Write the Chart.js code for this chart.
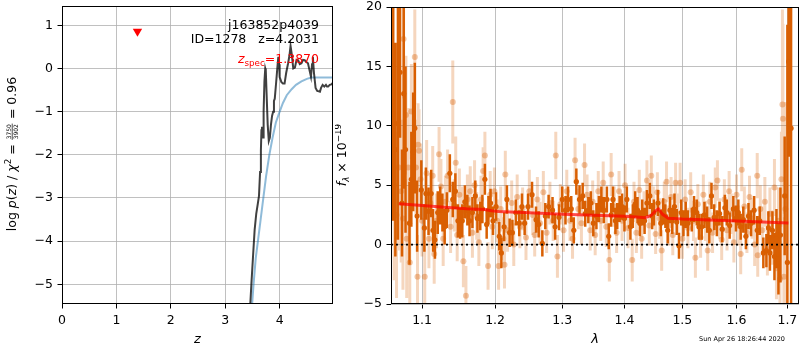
<!DOCTYPE html>
<html>
<head>
<meta charset="utf-8">
<script src="https://cdn.jsdelivr.net/npm/chart.js@4"></script>
<style>
html, body { margin: 0; padding: 0; background: #fff; }
#wrap { position: relative; width: 800px; height: 350px; }
#left { position: absolute; left: 0; top: 0; }
#right { position: absolute; left: 335px; top: 0; }
</style>
</head>
<body>
<div id="wrap">
<canvas id="left" width="335" height="350"></canvas>
<canvas id="right" width="465" height="350"></canvas>
</div>
<script>
// ---- left panel: log p(z) ----
const zTicks = [0, 1, 2, 3, 4];
const pzTicks = [-5, -4, -3, -2, -1, 0, 1];
const zFit = [3.45, 3.48, 3.51, 3.54, 3.57, 3.60, 3.62, 3.64, 3.655, 3.665,
  3.675, 3.685, 3.695, 3.705, 3.72, 3.735, 3.745, 3.76, 3.78, 3.80,
  3.82, 3.84, 3.86, 3.88, 3.895, 3.91, 3.93, 3.955, 3.975, 3.99,
  4.00, 4.03, 4.06, 4.09, 4.12, 4.155, 4.18, 4.20, 4.22, 4.25,
  4.28, 4.31, 4.34, 4.37, 4.40, 4.43, 4.46, 4.49, 4.52, 4.55,
  4.575, 4.595, 4.61, 4.63, 4.66, 4.69, 4.72, 4.74, 4.76, 4.79,
  4.82, 4.85, 4.87, 4.89, 4.92, 4.95, 4.98];
const logPz = [-5.7, -5.0, -4.36, -3.74, -3.36, -3.12, -2.95, -2.4, -1.9, -1.43,
  -1.35, -1.45, -1.6, -1.0, -0.3, 0.0, -0.05, -0.6, -1.3, -1.68,
  -1.6, -1.3, -1.1, -1.0, -0.75, -0.7, -0.4, -0.02, 0.27, 0.1,
  -0.2, -0.31, -0.35, -0.35, -0.1, 0.12, 0.3, 0.52, 0.35, 0.0,
  0.02, 0.2, 0.19, 0.1, 0.12, 0.2, 0.19, 0.15, 0.12, -0.05,
  -0.19, 0.1, 0.27, -0.1, -0.45, -0.52, -0.53, -0.54, -0.45, -0.38,
  -0.42, -0.38, -0.42, -0.42, -0.38, -0.37, -0.33];
const zPrior = [3.48, 3.52, 3.56, 3.60, 3.65, 3.70, 3.75, 3.81, 3.87, 3.93,
  4.00, 4.06, 4.13, 4.22, 4.30, 4.40, 4.50, 4.58, 4.65, 4.80, 4.98];
const logPrior = [-5.7, -5.0, -4.4, -4.0, -3.5, -3.0, -2.5, -2.0, -1.6, -1.25,
  -1.0, -0.8, -0.62, -0.48, -0.38, -0.3, -0.24, -0.21, -0.21, -0.21, -0.21];
const zSpec = 1.387;
const zSpecMark = 0.86;
const objName = 'j163852p4039';
const idText = 'ID=1278   z=4.2031';
const zSpecText = '=1.3870';

// ---- right panel: spectrum ----
const lamTicks = [1.1, 1.2, 1.3, 1.4, 1.5, 1.6, 1.7];
const fluxTicks = [-5, 0, 5, 10, 15, 20];

// strong points
const lamA = [1.0610, 1.0628, 1.0655, 1.0688, 1.0715, 1.0740, 1.0762, 1.0785, 1.0836, 1.0860,
  1.0884, 1.0905, 1.0935, 1.0990, 1.1030, 1.1050, 1.1085, 1.1120, 1.1145, 1.1170,
  1.1207, 1.1240, 1.1270, 1.1300, 1.1330, 1.1370, 1.1410, 1.1445, 1.1480, 1.1510,
  1.1540, 1.1575, 1.1610, 1.1640, 1.1680, 1.1720, 1.1750, 1.1790, 1.1820, 1.1855,
  1.1880, 1.1905, 1.1935, 1.1970, 1.2014, 1.2060, 1.2090, 1.2130, 1.2170, 1.2210,
  1.2250, 1.2300, 1.2350, 1.2390, 1.2430, 1.2480, 1.2540, 1.2600, 1.2640, 1.2695,
  1.2740, 1.2790, 1.2850, 1.2890, 1.2950, 1.3000, 1.3050, 1.3090, 1.3140, 1.3180,
  1.3220, 1.3270, 1.3320, 1.3360, 1.3410, 1.3450, 1.3490, 1.3540, 1.3580, 1.3620,
  1.3660, 1.3710, 1.3740, 1.3780, 1.3810, 1.3850, 1.3880, 1.3920, 1.3960, 1.4000,
  1.4040, 1.4100, 1.4140, 1.4180, 1.4220, 1.4260, 1.4300, 1.4340, 1.4380, 1.4430,
  1.4470, 1.4500, 1.4570, 1.4620, 1.4660, 1.4700, 1.4740, 1.4780, 1.4820, 1.4860,
  1.4900, 1.4940, 1.4980, 1.5020, 1.5060, 1.5100, 1.5170, 1.5210, 1.5260, 1.5300,
  1.5350, 1.5400, 1.5450, 1.5490, 1.5530, 1.5580, 1.5630, 1.5680, 1.5730, 1.5780,
  1.5816, 1.5870, 1.5940, 1.5990, 1.6035, 1.6080, 1.6130, 1.6180, 1.6230, 1.6280,
  1.6340, 1.6400, 1.6450, 1.6520, 1.6580, 1.6620, 1.6650, 1.6700, 1.6740, 1.6780,
  1.6820, 1.6860, 1.6945, 1.7000, 1.7025, 1.7075];
const fluxA = [12.0, 11.0, 8.0, 10.2, 14.5, 3.5, 12.7, 8.0, 1.8, 5.5,
  7.8, 9.8, 2.4, 4.6, 1.4, 4.3, 2.8, 4.3, 1.2, 0.4,
  2.7, 3.3, 2.7, 1.5, 2.9, 6.0, 3.8, 4.5, 2.0, 1.8,
  2.0, 3.6, 2.9, 2.0, 2.7, 4.1, 2.2, 2.4, 3.0, 5.5,
  1.7, 2.9, 3.5, 2.0, 3.2, 0.7, -0.7, 1.5, 3.8, 1.0,
  1.0, 2.7, 1.8, 3.2, 1.8, 3.2, 4.2, 2.1, 1.7, 0.1,
  2.4, 3.2, 2.9, 1.5, 2.3, 3.8, 2.9, 3.8, 3.0, 1.2,
  5.3, 3.8, 4.1, 2.6, 2.9, 3.5, 1.8, 2.4, 3.0, 3.8,
  2.9, 3.8, 0.7, 2.5, 3.8, 2.0, 2.4, 3.0, 3.2, 2.2,
  3.8, 1.5, 2.4, 3.4, 2.9, 1.8, 2.7, 2.0, 3.5, 4.1,
  2.4, 2.7, 3.5, 1.8, 2.8, 2.4, 1.2, 2.9, 2.0, 3.2,
  1.9, -0.1, 2.7, 1.8, 2.5, 1.8, 2.1, 3.0, 2.7, 1.5,
  1.5, 2.5, 2.1, 1.2, 4.1, 2.3, 1.8, 2.6, 1.3, 3.1,
  2.7, 1.6, 3.0, 2.2, 2.7, 1.5, 2.1, 0.7, 2.4, 1.8,
  2.9, 1.2, 2.0, -0.7, -0.5, 1.4, -0.7, 1.2, -1.0, 0.5,
  -1.2, 0.8, 4.1, -1.5, 15.4, 9.8];
const errA = [9.5, 9.0, 9.0, 9.8, 5.5, 4.5, 8.0, 7.0, 3.5, 4.0,
  5.0, 5.5, 3.0, 2.5, 2.0, 2.2, 2.0, 2.0, 1.8, 1.6,
  1.8, 1.6, 1.6, 1.5, 1.5, 1.6, 1.5, 1.5, 1.4, 1.3,
  1.4, 1.4, 1.3, 1.3, 1.3, 1.3, 1.2, 1.2, 1.2, 1.3,
  1.2, 1.2, 1.2, 1.2, 1.2, 1.2, 1.3, 1.2, 1.2, 1.2,
  1.1, 1.1, 1.1, 1.1, 1.0, 1.1, 1.1, 1.1, 1.1, 1.1,
  1.1, 1.0, 1.1, 1.1, 1.1, 1.1, 1.2, 1.1, 1.1, 1.1,
  1.1, 1.2, 1.1, 1.1, 1.1, 1.0, 1.1, 1.1, 1.1, 1.1,
  1.1, 1.1, 1.1, 1.0, 1.1, 1.1, 1.1, 1.1, 1.1, 1.1,
  1.1, 1.1, 1.0, 1.1, 1.1, 1.1, 1.1, 1.1, 1.1, 1.1,
  1.1, 1.1, 1.1, 1.1, 1.1, 1.0, 1.1, 1.1, 1.1, 1.1,
  1.1, 1.1, 1.1, 1.1, 1.1, 1.1, 1.0, 1.1, 1.1, 1.1,
  1.1, 1.1, 1.1, 1.1, 1.1, 1.1, 1.1, 1.0, 1.1, 1.1,
  1.1, 1.1, 1.1, 1.1, 1.1, 1.1, 1.1, 1.1, 1.1, 1.1,
  1.2, 1.2, 1.2, 1.3, 1.4, 1.4, 1.5, 1.6, 2.0, 2.5,
  3.0, 4.0, 5.0, 20.0, 8.0, 15.0];

// faint points
const lamB = [1.0640, 1.0670, 1.0700, 1.0730, 1.0752, 1.0760, 1.0790, 1.0800, 1.0820, 1.0840,
  1.0860, 1.0905, 1.0920, 1.0940, 1.0948, 1.0960, 1.0980, 1.1000, 1.1035, 1.1060,
  1.1090, 1.1110, 1.1140, 1.1160, 1.1190, 1.1225, 1.1250, 1.1280, 1.1310, 1.1340,
  1.1380, 1.1410, 1.1430, 1.1450, 1.1470, 1.1500, 1.1530, 1.1555, 1.1590, 1.1610,
  1.1650, 1.1680, 1.1710, 1.1740, 1.1770, 1.1800, 1.1830, 1.1855, 1.1900, 1.1930,
  1.1960, 1.1990, 1.2030, 1.2050, 1.2080, 1.2120, 1.2135, 1.2147, 1.2180, 1.2240,
  1.2270, 1.2320, 1.2360, 1.2400, 1.2450, 1.2500, 1.2550, 1.2580, 1.2620, 1.2660,
  1.2710, 1.2760, 1.2810, 1.2860, 1.2900, 1.2925, 1.2970, 1.3020, 1.3070, 1.3120,
  1.3160, 1.3200, 1.3250, 1.3300, 1.3350, 1.3390, 1.3440, 1.3480, 1.3520, 1.3570,
  1.3610, 1.3650, 1.3700, 1.3750, 1.3780, 1.3830, 1.3870, 1.3910, 1.3960, 1.4010,
  1.4060, 1.4130, 1.4160, 1.4200, 1.4250, 1.4290, 1.4330, 1.4380, 1.4420, 1.4455,
  1.4490, 1.4530, 1.4560, 1.4600, 1.4635, 1.4680, 1.4720, 1.4760, 1.4800, 1.4830,
  1.4880, 1.4920, 1.4960, 1.5000, 1.5050, 1.5100, 1.5150, 1.5200, 1.5235, 1.5280,
  1.5330, 1.5380, 1.5420, 1.5460, 1.5500, 1.5550, 1.5600, 1.5640, 1.5680, 1.5720,
  1.5770, 1.5820, 1.5860, 1.5900, 1.5950, 1.6000, 1.6040, 1.6080, 1.6100, 1.6150,
  1.6200, 1.6250, 1.6300, 1.6350, 1.6400, 1.6410, 1.6460, 1.6500, 1.6550, 1.6600,
  1.6650, 1.6700, 1.6740, 1.6780, 1.6820, 1.6850, 1.6880, 1.6900, 1.6910, 1.6930,
  1.6960];
const fluxB = [5.0, 2.5, 6.5, 4.5, 2.2, 17.3, 10.9, 0.5, 6.5, -1.5,
  11.2, 15.8, 6.5, -2.7, 8.4, 7.9, 5.5, 2.0, -2.7, 6.0,
  0.5, 3.5, 5.8, -0.8, 2.0, 7.6, 4.9, 0.5, 3.6, 5.8,
  1.5, 12.0, 3.3, 6.9, 0.8, 4.2, 2.8, -1.4, -4.3, 3.8,
  4.5, 1.0, 5.0, 2.4, 0.2, 3.8, 6.2, 7.5, -1.8, 4.2,
  1.5, 4.5, 2.0, -1.8, 3.0, 0.5, -1.7, 5.9, 1.2, 3.5,
  0.0, 4.0, 1.5, 3.0, 0.6, 4.5, 2.5, 0.8, 3.8, 1.8,
  4.4, 1.0, 3.5, 2.0, 7.5, -1.0, 3.4, 1.2, 4.5, 2.0,
  0.5, 7.1, 3.0, 1.8, 6.7, 4.2, 1.2, 3.6, 0.8, 4.5,
  2.0, 5.2, 1.5, -1.3, 5.9, 3.2, 1.0, 4.5, 2.0, 5.0,
  1.4, -1.3, 3.6, 1.0, 4.6, 0.5, 2.8, 5.4, 1.6, 5.8,
  3.2, 0.9, 4.4, 2.2, -0.5, 3.6, 5.3, 1.6, 4.0, 0.8,
  5.2, 2.6, 5.2, 0.5, 3.8, 1.4, 4.4, 2.0, -1.1, 3.4,
  0.6, 4.2, 2.0, -0.5, 3.6, 1.0, 4.8, 5.4, 2.2, 0.4,
  3.8, 1.2, 4.5, 2.6, 0.2, 4.2, 1.6, -0.8, 6.3, 3.2,
  1.0, 4.0, 2.2, 0.0, 5.8, -0.9, 3.0, 1.2, 3.6, -0.4,
  2.6, 0.6, 4.8, -2.0, 2.0, -2.9, 5.5, 11.8, 10.6, -2.7,
  3.0];
const errB = [8.0, 7.0, 7.0, 6.0, 6.0, 5.0, 5.0, 5.0, 5.0, 4.0,
  4.0, 4.0, 4.0, 3.5, 3.5, 3.5, 3.0, 3.0, 3.0, 2.8,
  2.5, 2.5, 2.5, 2.5, 2.3, 2.3, 2.3, 2.3, 2.2, 2.2,
  2.2, 3.5, 2.2, 2.2, 2.2, 2.2, 2.1, 2.2, 2.5, 2.1,
  2.1, 2.1, 2.1, 2.0, 2.0, 2.0, 2.0, 2.0, 2.0, 2.0,
  1.9, 2.0, 1.8, 2.0, 1.9, 1.8, 2.0, 2.0, 1.8, 1.9,
  1.8, 1.9, 1.8, 1.8, 1.9, 1.8, 1.7, 1.8, 1.9, 1.8,
  1.8, 1.7, 1.8, 1.7, 2.0, 1.8, 1.7, 1.8, 1.8, 1.7,
  1.7, 1.9, 1.7, 1.8, 1.8, 1.7, 1.7, 1.8, 1.7, 1.7,
  1.7, 1.8, 1.7, 1.8, 1.8, 1.7, 1.7, 1.7, 1.7, 1.8,
  1.7, 1.8, 1.7, 1.7, 1.7, 1.7, 1.7, 1.7, 1.7, 1.7,
  1.7, 1.7, 1.7, 1.7, 1.7, 1.7, 1.7, 1.7, 1.7, 1.7,
  1.7, 1.7, 1.7, 1.7, 1.7, 1.7, 1.7, 1.7, 1.7, 1.7,
  1.7, 1.7, 1.7, 1.7, 1.7, 1.7, 1.7, 1.7, 1.7, 1.7,
  1.7, 1.7, 1.7, 1.7, 1.7, 1.7, 1.7, 1.7, 1.8, 1.7,
  1.7, 1.8, 1.7, 1.8, 1.9, 1.8, 2.0, 2.0, 2.1, 2.2,
  2.2, 2.3, 2.4, 2.6, 2.8, 3.2, 4.0, 8.0, 8.0, 5.0,
  9.0];

// best-fit template
const lamModel = [1.070, 1.100, 1.130, 1.160, 1.185, 1.195, 1.205, 1.250, 1.300, 1.350,
  1.400, 1.420, 1.435, 1.445, 1.453, 1.458, 1.465, 1.475, 1.500, 1.550,
  1.600, 1.650, 1.702];
const fluxModel = [3.44, 3.30, 3.15, 3.02, 2.95, 2.85, 2.78, 2.68, 2.55, 2.48,
  2.38, 2.32, 2.26, 2.45, 2.85, 3.0, 2.55, 2.22, 2.15, 2.07,
  1.98, 1.90, 1.82];
const dateText = 'Sun Apr 26 18:26:44 2020';

Chart.defaults.font.family = '"DejaVu Sans", sans-serif';
Chart.defaults.font.size = 12.5;
Chart.defaults.color = '#000';

const FONT = '"DejaVu Sans", sans-serif';
const minus = v => String(v).replace('-', '\u2212');
const pts = (xs, ys) => xs.map((x, i) => ({x: x, y: ys[i]}));

function errSegs(lam, flux, err) {
  const out = [];
  for (let i = 0; i < lam.length; i++) {
    out.push({x: lam[i], y: flux[i] - err[i]}, {x: lam[i], y: flux[i] + err[i]}, {x: lam[i], y: null});
  }
  return out;
}

// draw a row of text pieces (sub/superscripts, a small fraction)
function drawRuns(ctx, parts, x, y, align) {
  let w = 0;
  parts.forEach(p => {
    if (p.num) {
      ctx.font = p.size + 'px ' + FONT;
      p.w = Math.max(ctx.measureText(p.num).width, ctx.measureText(p.den).width) + 2;
    } else {
      ctx.font = (p.style || '') + ' ' + p.size + 'px ' + FONT;
      p.w = ctx.measureText(p.t).width;
    }
    w += p.w;
  });
  let cx = align === 'center' ? x - w / 2 : (align === 'right' ? x - w : x);
  ctx.textAlign = 'center';
  parts.forEach(p => {
    if (p.num) {
      ctx.font = p.size + 'px ' + FONT;
      ctx.fillText(p.num, cx + p.w / 2, y - 4.8);
      ctx.fillText(p.den, cx + p.w / 2, y + 1.6);
      ctx.fillRect(cx + 0.5, y - 4.2, p.w - 1, 0.7);
    } else {
      ctx.font = (p.style || '') + ' ' + p.size + 'px ' + FONT;
      ctx.fillText(p.t, cx + p.w / 2, y + (p.dy || 0));
    }
    cx += p.w;
  });
}

const frame = {
  id: 'frame',
  afterDatasetsDraw(chart) {
    const a = chart.chartArea, ctx = chart.ctx;
    ctx.save();
    ctx.strokeStyle = '#000';
    ctx.lineWidth = 1;
    ctx.strokeRect(Math.round(a.left) + 0.5, Math.round(a.top) + 0.5,
      Math.round(a.right - a.left) - 1, Math.round(a.bottom - a.top) - 1);
    ctx.restore();
  }
};

const leftText = {
  id: 'leftText',
  afterDraw(chart) {
    const ctx = chart.ctx;
    ctx.save();
    ctx.textBaseline = 'alphabetic';
    ctx.fillStyle = '#000';
    ctx.textAlign = 'right';
    ctx.font = '12.5px ' + FONT;
    ctx.fillText(objName, 319, 28.5);
    ctx.fillText(idText, 319, 43);
    ctx.fillStyle = 'red';
    drawRuns(ctx, [
      {t: 'z', style: 'italic', size: 12.5},
      {t: 'spec', size: 8.75, dy: 3},
      {t: zSpecText, size: 12.5}
    ], 319, 63, 'right');
    ctx.fillStyle = '#000';
    ctx.translate(16, 154);
    ctx.rotate(-Math.PI / 2);
    drawRuns(ctx, [
      {t: 'log ', size: 12.5},
      {t: 'p', style: 'italic', size: 12.5},
      {t: '(', size: 12.5},
      {t: 'z', style: 'italic', size: 12.5},
      {t: ') / ', size: 12.5},
      {t: '\u03c7', style: 'italic', size: 12.5},
      {t: '2', size: 8.75, dy: -5},
      {t: ' = ', size: 12.5},
      {num: '3750', den: '3902', size: 6},
      {t: ' = 0.96', size: 12.5}
    ], 0, 0, 'center');
    ctx.restore();
  }
};

const rightText = {
  id: 'rightText',
  afterDraw(chart) {
    const ctx = chart.ctx;
    ctx.save();
    ctx.textBaseline = 'alphabetic';
    ctx.fillStyle = '#000';
    ctx.font = '6.5px ' + FONT;
    ctx.textAlign = 'center';
    ctx.fillText(dateText, 407, 341);
    ctx.translate(11, 155);
    ctx.rotate(-Math.PI / 2);
    drawRuns(ctx, [
      {t: 'f', style: 'italic', size: 12.5},
      {t: '\u03bb', style: 'italic', size: 8.75, dy: 2.5},
      {t: ' \u00d7 10', size: 12.5},
      {t: '\u221219', size: 8.75, dy: -5}
    ], 0, 0, 'center');
    ctx.restore();
  }
};

const gridOpts = {color: '#b0b0b0', lineWidth: 0.8, tickLength: 4.5, tickColor: '#000', tickWidth: 1};

// keep the plot box exactly where the padding puts it
const fitX = s => { s.height = 46; s.paddingLeft = 0; s.paddingRight = 0; };
const fitY = w => s => { s.width = w; s.paddingTop = 0; s.paddingBottom = 0; };

new Chart(document.getElementById('left'), {
  type: 'line',
  data: {
    datasets: [
      {type: 'scatter', data: [{x: zSpec, y: zSpecMark}], pointStyle: 'triangle', rotation: 180,
        pointRadius: 5.4, backgroundColor: 'red', borderWidth: 0},
      {data: pts(zFit, logPz), borderColor: 'rgba(0,0,0,0.75)', borderWidth: 2, pointRadius: 0},
      {data: pts(zPrior, logPrior), borderColor: 'rgba(31,119,180,0.5)', borderWidth: 2, pointRadius: 0}
    ]
  },
  options: {
    responsive: false,
    animation: false,
    layout: {autoPadding: false, padding: {top: 6, right: 2, left: 0, bottom: 0}},
    plugins: {legend: {display: false}, tooltip: {enabled: false}},
    scales: {
      x: {
        type: 'linear', min: 0, max: 4.98,
        afterBuildTicks: s => { s.ticks = zTicks.map(v => ({value: v})); },
        afterFit: fitX,
        grid: gridOpts, border: {display: false},
        ticks: {padding: 4.5, maxRotation: 0, callback: v => minus(v)},
        title: {display: true, text: 'z', font: {style: 'italic', size: 13}, padding: {top: 0, bottom: 3}}
      },
      y: {
        type: 'linear', min: -5.456, max: 1.447,
        afterBuildTicks: s => { s.ticks = pzTicks.map(v => ({value: v})); },
        afterFit: fitY(62),
        grid: gridOpts, border: {display: false},
        ticks: {padding: 4.5, callback: v => minus(v)}
      }
    }
  },
  plugins: [frame, leftText]
});

new Chart(document.getElementById('right'), {
  type: 'line',
  data: {
    datasets: [
      {data: [{x: 1.06, y: 0}, {x: 1.7237, y: 0}], borderColor: '#000', borderWidth: 1.8,
        borderDash: [2, 3], pointRadius: 0},
      {data: pts(lamModel, fluxModel), borderColor: 'rgba(255,0,0,0.7)', borderWidth: 3, pointRadius: 0},
      {type: 'scatter', data: pts(lamA, fluxA), pointRadius: 2.6, backgroundColor: '#d95f02', borderWidth: 0},
      {data: errSegs(lamA, fluxA, errA), borderColor: '#d95f02', borderWidth: 2.5, pointRadius: 0,
        borderCapStyle: 'butt', spanGaps: false},
      {type: 'scatter', data: pts(lamB, fluxB), pointRadius: 3, backgroundColor: 'rgba(217,95,2,0.35)', borderWidth: 0},
      {data: errSegs(lamB, fluxB, errB), borderColor: 'rgba(217,95,2,0.26)', borderWidth: 3, pointRadius: 0,
        borderCapStyle: 'butt', spanGaps: false}
    ]
  },
  options: {
    responsive: false,
    animation: false,
    layout: {autoPadding: false, padding: {top: 7, right: 1, left: 0, bottom: 0}},
    plugins: {legend: {display: false}, tooltip: {enabled: false}},
    scales: {
      x: {
        type: 'logarithmic', min: 1.060, max: 1.7237,
        afterBuildTicks: s => { s.ticks = lamTicks.map(v => ({value: v})); },
        afterFit: fitX,
        grid: gridOpts, border: {display: false},
        ticks: {padding: 4.5, maxRotation: 0, autoSkip: false, callback: v => Number(v).toFixed(1)},
        title: {display: true, text: '\u03bb', font: {style: 'italic', size: 13}, padding: {top: 0, bottom: 3}}
      },
      y: {
        type: 'linear', min: -5, max: 20,
        afterBuildTicks: s => { s.ticks = fluxTicks.map(v => ({value: v})); },
        afterFit: fitY(56),
        grid: gridOpts, border: {display: false},
        ticks: {padding: 4.5, callback: v => minus(v)}
      }
    }
  },
  plugins: [frame, rightText]
});
</script>
</body>
</html>
